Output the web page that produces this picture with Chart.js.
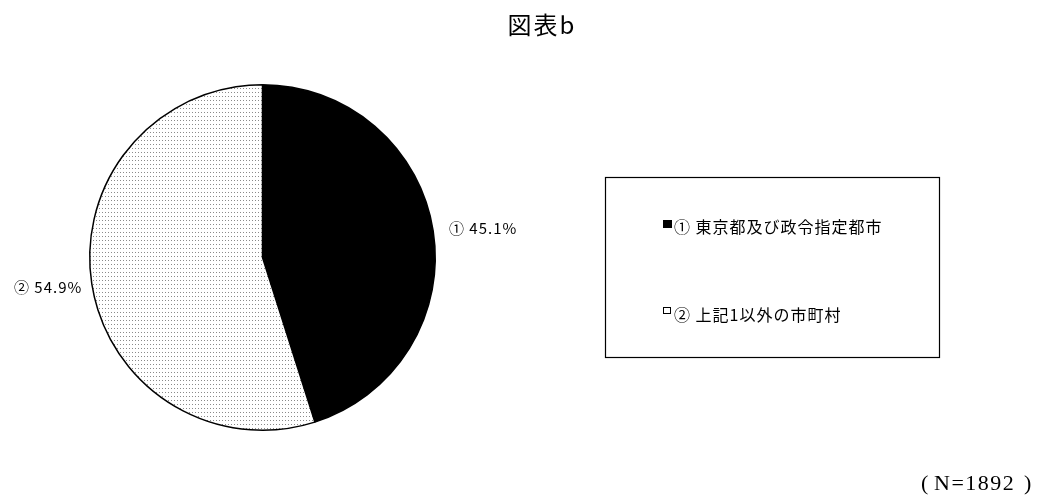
<!DOCTYPE html>
<html><head><meta charset="utf-8">
<script src="https://cdn.jsdelivr.net/npm/chart.js@4/dist/chart.umd.min.js"></script>
<style>html,body{margin:0;padding:0;background:#fff}#wrap{width:1046px;height:500px}</style>
</head><body><div id="wrap"><canvas id="c" width="1046" height="500"></canvas></div>
<script>
const titleText = "図表b";
const categories = ["① 東京都及び政令指定都市", "② 上記1以外の市町村"];
const shortLabels = ["①", "②"];
const values = [45.1, 54.9];
const sampleSize = 1892;

function dotPattern(){
  const p = document.createElement('canvas'); p.width = 3; p.height = 4;
  const g = p.getContext('2d');
  g.fillStyle = '#fff'; g.fillRect(0,0,3,4);
  g.fillStyle = '#8a8a8a'; g.fillRect(0,0,1,1);
  return document.getElementById('c').getContext('2d').createPattern(p,'repeat');
}
const pat = dotPattern();
const fills = ['#000000', pat];

const overlay = {
  id:'overlay',
  afterDraw(chart){
    const ctx = chart.ctx;
    ctx.save();
    ctx.fillStyle = '#000';
    ctx.font = '400 24px "Noto Sans CJK JP"';
    ctx.textAlign = 'center'; ctx.textBaseline = 'middle';
    ctx.letterSpacing = '2px';
    ctx.fillText(titleText, 542, 25);
    // slice labels
    ctx.font = '15px "Noto Sans CJK JP"';
    ctx.letterSpacing = '1px';
    ctx.textAlign = 'left';
    const pos = [[449,228],[14,287]];
    values.forEach((v,i)=>{ ctx.fillText(shortLabels[i] + ' ' + v.toFixed(1) + '%', pos[i][0], pos[i][1]); });
    // legend box
    ctx.strokeStyle = '#000'; ctx.lineWidth = 1.2;
    ctx.strokeRect(605.5, 177.5, 334, 180);
    const ly = [227, 315];
    ctx.lineWidth = 1;
    categories.forEach((c,i)=>{
      if(i===0){ ctx.fillStyle='#000'; ctx.fillRect(663,220,9,8); }
      else { ctx.fillStyle='#fff'; ctx.fillRect(663,307,8,7); ctx.strokeRect(663.5,307.5,7,6); }
      ctx.fillStyle='#000';
      ctx.font = '16px "Noto Sans CJK JP"';
      ctx.letterSpacing = '1px';
      ctx.fillText(c, 674, ly[i]);
    });
    // sample size note
    ctx.font = '22px "Liberation Serif"';
    ctx.letterSpacing = '0px';
    ctx.fillText('(', 921, 484);
    ctx.letterSpacing = '1.5px';
    ctx.fillText('N=' + sampleSize, 934, 484);
    ctx.letterSpacing = '0px';
    ctx.fillText(')', 1024, 484);
    ctx.restore();
  }
};

new Chart(document.getElementById('c'), {
  type:'pie',
  data:{ labels: categories, datasets:[{ data: values, backgroundColor: fills, borderColor:'#000', borderWidth:1.5 }]},
  options:{
    responsive:false, animation:false,
    layout:{ padding:{ left:89, right:610, top:84, bottom:69 } },
    plugins:{ legend:{display:false}, tooltip:{enabled:false}, title:{display:false} }
  },
  plugins:[overlay]
});
</script></body></html>
